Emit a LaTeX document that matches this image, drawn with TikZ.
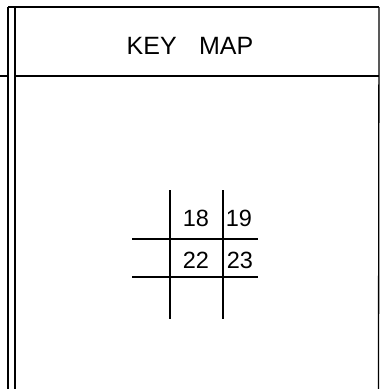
\documentclass[tikz,border=0pt]{standalone}
\usepackage{fontspec}
\setmainfont{Liberation Sans}
\begin{document}
\begin{tikzpicture}[x=1pt,y=-1pt,
  frame/.style={line width=1.3pt,black},
  grid/.style={line width=1.1pt,black},
  title/.style={font=\fontsize{25}{25}\selectfont,inner sep=0pt},
  sheet/.style={font=\fontsize{23.5}{23.5}\selectfont,inner sep=0pt}]
\useasboundingbox (0,0) rectangle (380,389);
% frame
\draw[frame] (8,7) -- (379,7);
\draw[frame] (8,7) -- (8,389);
\draw[frame] (15,7) -- (15,389);
\draw[frame] (379,7) -- (378.5,389);
\draw[frame] (0,76) -- (8,76);
\draw[frame] (15,76) -- (379,76);
% title
\node[title] (t) at (190,46) {KEY\hspace{0.9em}MAP};
% grid
\draw[grid] (170,190) -- (170,319);
\draw[grid] (223,190) -- (223,319);
\draw[grid] (132,239) -- (258,239);
\draw[grid] (132,277) -- (258,277);
\node[sheet] (s18) at (196,218) {18};
\node[sheet] (s19) at (239,218) {19};
\node[sheet] (s22) at (196,260) {22};
\node[sheet] (s23) at (240,260) {23};
\end{tikzpicture}
\end{document}
